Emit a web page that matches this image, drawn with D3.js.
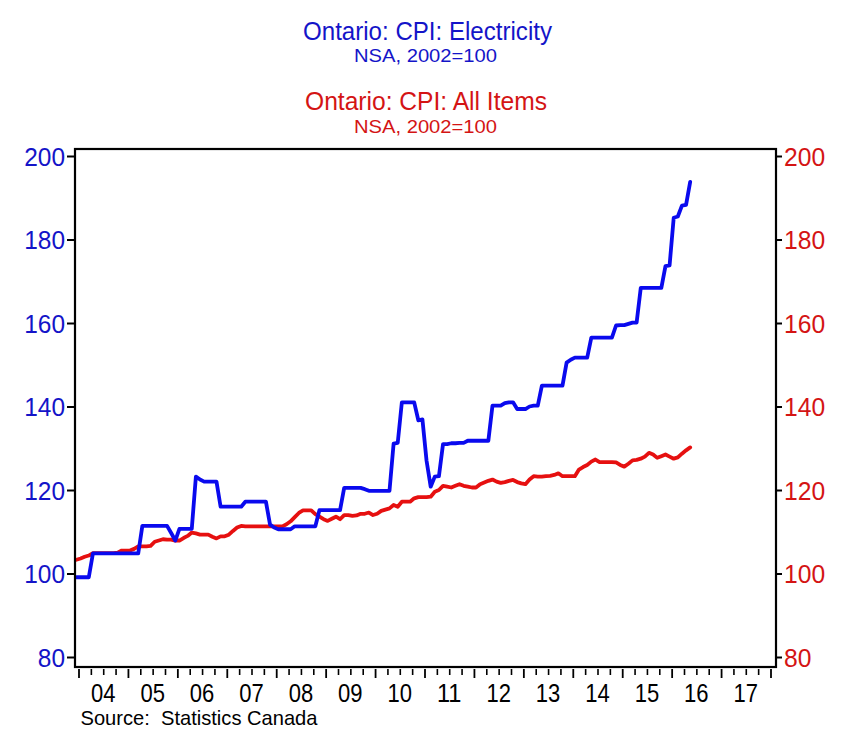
<!DOCTYPE html>
<html>
<head>
<meta charset="utf-8">
<script src="https://cdn.jsdelivr.net/npm/d3@7/dist/d3.min.js"></script>
<style>
  html, body { margin: 0; padding: 0; background: #ffffff; }
  svg text { font-family: "Liberation Sans", Arial, Helvetica, sans-serif; white-space: pre; }
</style>
</head>
<body>
<svg id="chart" width="841" height="744"></svg>
<script>
// ---- Data (monthly, Dec 2003 .. May 2016) ----
const firstMonth = { year: 2003, month: 12 };

const electricity = [
  99.1,
  99.1, 99.1, 99.1, 104.8, 104.8, 104.8, 104.8, 104.8, 104.8, 104.8, 104.8, 104.8,   // 2004
  104.8, 104.8, 104.8, 111.4, 111.4, 111.4, 111.4, 111.4, 111.4, 111.4, 109.7, 107.9, // 2005
  110.7, 110.7, 110.7, 110.7, 123.2, 122.5, 122.0, 122.0, 122.0, 122.0, 116.0, 116.0, // 2006
  116.0, 116.0, 116.0, 116.0, 117.2, 117.2, 117.2, 117.2, 117.2, 117.2, 111.7, 111.0, // 2007
  110.6, 110.6, 110.6, 110.6, 111.3, 111.3, 111.3, 111.3, 111.3, 111.3, 115.2, 115.2, // 2008
  115.2, 115.2, 115.2, 115.2, 120.5, 120.5, 120.5, 120.5, 120.5, 120.2, 119.8, 119.8, // 2009
  119.8, 119.8, 119.8, 119.8, 131.1, 131.3, 141.0, 141.0, 141.0, 141.0, 136.7, 136.9, // 2010
  127.0, 120.8, 123.2, 123.3, 131.0, 131.0, 131.2, 131.2, 131.3, 131.3, 131.8, 131.8, // 2011
  131.8, 131.8, 131.8, 131.8, 140.2, 140.2, 140.2, 140.8, 141.0, 141.0, 139.4, 139.4, // 2012
  139.4, 140.0, 140.2, 140.2, 145.0, 145.0, 145.0, 145.0, 145.0, 145.0, 150.5, 151.2, // 2013
  151.7, 151.7, 151.7, 151.7, 156.5, 156.5, 156.5, 156.5, 156.5, 156.5, 159.4, 159.5, // 2014
  159.5, 159.8, 160.1, 160.1, 168.4, 168.4, 168.4, 168.4, 168.4, 168.4, 173.6, 173.8, // 2015
  185.2, 185.5, 188.1, 188.3, 193.8                                                    // 2016
];

const allItems = [
  103.3,
  103.6, 104.0, 104.3, 104.9, 104.9, 104.9, 104.9, 104.9, 104.9, 105.0, 105.5, 105.5, // 2004
  105.5, 105.9, 106.5, 106.5, 106.5, 106.6, 107.6, 107.9, 108.2, 108.1, 108.1, 107.9, // 2005
  107.9, 108.5, 109.0, 109.8, 109.6, 109.3, 109.3, 109.3, 108.8, 108.4, 108.9, 108.9, // 2006
  109.3, 110.2, 111.0, 111.4, 111.3, 111.3, 111.3, 111.3, 111.3, 111.3, 111.3, 111.3, // 2007
  111.3, 111.3, 111.8, 112.5, 113.5, 114.5, 115.1, 115.1, 115.1, 114.2, 113.6, 113.0, // 2008
  112.6, 113.1, 113.6, 113.0, 114.0, 114.0, 113.8, 113.9, 114.3, 114.3, 114.6, 114.0, // 2009
  114.3, 115.0, 115.3, 115.6, 116.4, 116.0, 117.2, 117.2, 117.2, 118.0, 118.3, 118.3, // 2010
  118.3, 118.4, 119.6, 120.0, 121.0, 120.8, 120.6, 121.0, 121.4, 121.0, 120.8, 120.6, // 2011
  120.6, 121.4, 121.8, 122.2, 122.5, 122.0, 121.7, 121.9, 122.2, 122.4, 121.9, 121.6, // 2012
  121.4, 122.5, 123.3, 123.2, 123.2, 123.3, 123.4, 123.6, 124.0, 123.3, 123.3, 123.3, // 2013
  123.3, 124.9, 125.5, 126.0, 126.8, 127.3, 126.7, 126.7, 126.7, 126.7, 126.6, 126.0, // 2014
  125.6, 126.3, 127.1, 127.2, 127.5, 128.0, 128.9, 128.5, 127.7, 128.1, 128.5, 128.0, // 2015
  127.5, 127.8, 128.7, 129.5, 130.2                                                    // 2016
];

const yearLabels = ["04","05","06","07","08","09","10","11","12","13","14","15","16","17"];
const firstYear = 2004;
const yTicks = [80, 100, 120, 140, 160, 180, 200];

const titles = [
  { text: "Ontario: CPI: Electricity", color: "#1414c8", size: 25.5, y: 39.5, w: 249, cx: 427.5 },
  { text: "NSA, 2002=100",             color: "#1414c8", size: 19,   y: 62,   w: 143, cx: 425.5 },
  { text: "Ontario: CPI: All Items",   color: "#d41414", size: 25.5, y: 110,  w: 242, cx: 426 },
  { text: "NSA, 2002=100",             color: "#d41414", size: 19,   y: 132.5, w: 143, cx: 425.5 }
];
const sourceText = "Source:  Statistics Canada";

// ---- Layout ----
const frame = { left: 75, right: 776, top: 149, bottom: 667 };
const svg = d3.select("#chart");

const x = d3.scaleLinear().domain([firstYear, firstYear + yearLabels.length]).range([78.5, 770.5]);
const yL = d3.scaleLinear().domain([80, 200]).range([657, 156]);
const yR = d3.scaleLinear().domain([80, 200]).range([657, 156]);

const tOf = i => firstMonth.year + (firstMonth.month - 1 + i + 0.5) / 12;

// titles
titles.forEach(t => {
  svg.append("text")
    .attr("x", t.cx).attr("y", t.y)
    .attr("text-anchor", "middle")
    .attr("font-size", t.size)
    .attr("fill", t.color)
    .attr("textLength", t.w)
    .attr("lengthAdjust", "spacingAndGlyphs")
    .text(t.text);
});

// clip
svg.append("clipPath").attr("id", "clip")
  .append("rect")
  .attr("x", frame.left).attr("y", frame.top)
  .attr("width", frame.right - frame.left).attr("height", frame.bottom - frame.top);

// lines
const line = (yScale) => d3.line().x((d, i) => x(tOf(i))).y(d => yScale(d));
const g = svg.append("g").attr("clip-path", "url(#clip)");
g.append("path").datum(allItems)
  .attr("d", line(yR))
  .attr("fill", "none").attr("stroke", "#e61010").attr("stroke-width", 3.8)
  .attr("stroke-linejoin", "round").attr("stroke-linecap", "round");
g.append("path").datum(electricity)
  .attr("d", line(yL))
  .attr("fill", "none").attr("stroke", "#0a0aee").attr("stroke-width", 3.8)
  .attr("stroke-linejoin", "round").attr("stroke-linecap", "round");

// frame
svg.append("rect")
  .attr("x", frame.left).attr("y", frame.top)
  .attr("width", frame.right - frame.left).attr("height", frame.bottom - frame.top)
  .attr("fill", "none").attr("stroke", "#000").attr("stroke-width", 2.2);

// left axis
const leftAxis = d3.axisLeft(yL).tickValues(yTicks).tickSize(8).tickPadding(2);
const gl = svg.append("g").attr("transform", `translate(${frame.left},0)`).call(leftAxis);
gl.select(".domain").remove();
gl.selectAll(".tick line").attr("stroke", "#000").attr("stroke-width", 2);
gl.selectAll(".tick text")
  .attr("font-size", 25.5).attr("fill", "#1414c8")
  .attr("font-family", "Liberation Sans, Arial, sans-serif")
  .attr("dy", "0.36em")
  .attr("textLength", d => String(d).length * 13.6)
  .attr("lengthAdjust", "spacingAndGlyphs");

// right axis
const rightAxis = d3.axisRight(yR).tickValues(yTicks).tickSize(6).tickPadding(2);
const gr = svg.append("g").attr("transform", `translate(${frame.right},0)`).call(rightAxis);
gr.select(".domain").remove();
gr.selectAll(".tick line").attr("stroke", "#000").attr("stroke-width", 2);
gr.selectAll(".tick text")
  .attr("font-size", 25.5).attr("fill", "#d41414")
  .attr("font-family", "Liberation Sans, Arial, sans-serif")
  .attr("dy", "0.36em")
  .attr("textLength", d => String(d).length * 13.7)
  .attr("lengthAdjust", "spacingAndGlyphs");

// bottom axis: minor quarterly ticks, major yearly ticks
const nYears = yearLabels.length;
const minorTicks = d3.range(firstYear, firstYear + nYears, 0.25).filter(v => v % 1 !== 0);
const majorTicks = d3.range(firstYear, firstYear + nYears + 1);
const gb = svg.append("g").attr("transform", `translate(0,${frame.bottom + 2})`);
gb.call(d3.axisBottom(x).tickValues(minorTicks).tickSize(6).tickFormat(""))
  .call(a => a.select(".domain").remove());
gb.selectAll(".tick line").attr("stroke", "#000").attr("stroke-width", 1.6);
const gb2 = svg.append("g").attr("transform", `translate(0,${frame.bottom + 2})`);
gb2.call(d3.axisBottom(x).tickValues(majorTicks).tickSize(9).tickFormat(""))
  .call(a => a.select(".domain").remove());
gb2.selectAll(".tick line").attr("stroke", "#000").attr("stroke-width", 1.8);

// year labels
svg.append("g").selectAll("text").data(yearLabels).join("text")
  .attr("x", (d, i) => x(firstYear + i + 0.5))
  .attr("y", 702)
  .attr("text-anchor", "middle")
  .attr("font-size", 26)
  .attr("fill", "#000")
  .attr("textLength", 24.5)
  .attr("lengthAdjust", "spacingAndGlyphs")
  .text(d => d);

// source
svg.append("text")
  .attr("x", 80.5).attr("y", 725)
  .attr("font-size", 21)
  .attr("fill", "#000")
  .attr("textLength", 237)
  .attr("lengthAdjust", "spacingAndGlyphs")
  .text(sourceText);
</script>
</body>
</html>
